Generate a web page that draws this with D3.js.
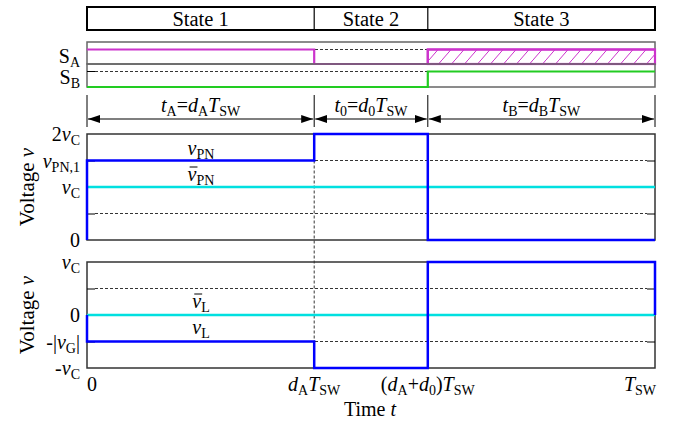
<!DOCTYPE html>
<html>
<head>
<meta charset="utf-8">
<script src="https://cdn.jsdelivr.net/npm/d3@7"></script>
<style>
  body { margin: 0; background: #fff; }
  svg { display: block; font-family: "Liberation Serif", "DejaVu Serif", serif; }
</style>
</head>
<body>
<svg id="chart" width="679" height="421"></svg>
<script>
// data (time in units of T_SW, voltage in units of v_C)
const stateNames = ["State 1", "State 2", "State 3"];
const duty = [0.4, 0.2, 0.4];            // dA, d0, dB
const sA = [1, 0, 1];                    // state 3 of SA is hatched (don't care)
const sAHatched = [false, false, true];
const sB = [0, 0, 1];
const vPN = [1.5, 2, 0];
const vPNMean = 1;
const vL = [-0.5, -1, 1];
const vLMean = 0;
const vPNTicks = [0, 1, 1.5, 2];
const vPNTickLabels = [[["0"]], [["v", "i"], ["C", "sub"]], [["v", "i"], ["PN,1", "sub"]], [["2"], ["v", "i"], ["C", "sub"]]];
const vPNGrid = [0.5, 1.5];
const vLTicks = [-1, -0.5, 0, 1];
const vLTickLabels = [[["-"], ["v", "i"], ["C", "sub"]], [["-|"], ["v", "i"], ["G", "sub"], ["|"]], [["0"]], [["v", "i"], ["C", "sub"]]];
const vLGrid = [-0.5, 0.5];
const intervalLabels = [
  [["t", "i"], ["A", "sub"], ["="], ["d", "i"], ["A", "sub"], ["T", "i"], ["SW", "sub"]],
  [["t", "i"], ["0", "sub"], ["="], ["d", "i"], ["0", "sub"], ["T", "i"], ["SW", "sub"]],
  [["t", "i"], ["B", "sub"], ["="], ["d", "i"], ["B", "sub"], ["T", "i"], ["SW", "sub"]]
];
const timeTickLabels = [
  [["0"]],
  [["d", "i"], ["A", "sub"], ["T", "i"], ["SW", "sub"]],
  [["("], ["d", "i"], ["A", "sub"], ["+"], ["d", "i"], ["0", "sub"], [")"], ["T", "i"], ["SW", "sub"]],
  [["T", "i"], ["SW", "sub"]]
];

const chart = (function () {

    let svg, x, yPN, yL, bounds;

    const colBlue = "#0000ff",
          colCyan = "#00e0e0",
          colPink = "#cc33cc",
          colGreen = "#22cc22",
          colFrame = "#333",
          fs = 20;

    return { init };

    // writes italic / subscript runs into a text element
    function rich(sel, parts, size) {
        let shifted = false;
        parts.forEach(function (p) {
            const t = sel.append("tspan").text(p[0]);
            const f = p.slice(1);
            if (f.includes("i")) t.style("font-style", "italic");
            if (f.includes("sub")) {
                t.style("font-size", (size * 0.7) + "px");
                if (!shifted) { t.attr("dy", 4); shifted = true; }
            } else if (shifted) {
                t.attr("dy", -4); shifted = false;
            }
        });
        return sel;
    }

    // bar over the first glyph of a text element
    function overbar(g, textSel) {
        const r = textSel.node().getExtentOfChar(0);
        g.append("line")
            .attr("x1", r.x + 2).attr("x2", r.x + r.width + 1)
            .attr("y1", r.y + 4).attr("y2", r.y + 4)
            .attr("stroke", "#000").attr("stroke-width", 1);
    }

    function init() {
        svg = d3.select("#chart");

        bounds = [0];
        duty.forEach(function (d, i) { bounds.push(bounds[i] + d); });

        x = d3.scaleLinear().domain([0, 1]).range([87, 655]);
        yPN = d3.scaleLinear().domain([0, 2]).range([240, 134]);
        yL = d3.scaleLinear().domain([-1, 1]).range([368, 262]);

        drawStates();
        drawSwitches();
        drawIntervals();
        drawPlot(yPN, vPN, vPNMean, vPNGrid, vPNTicks, vPNTickLabels, true);
        drawPlot(yL, vL, vLMean, vLGrid, vLTicks, vLTickLabels, false);
        drawTimeAxis();
    }

    function drawStates() {
        const g = svg.append("g");
        g.append("rect")
            .attr("x", x(0)).attr("y", 7)
            .attr("width", x(1) - x(0)).attr("height", 23)
            .attr("fill", "none").attr("stroke", "#000").attr("stroke-width", 2);
        g.selectAll("line.div").data(bounds.slice(1, -1)).join("line")
            .attr("x1", d => x(d)).attr("x2", d => x(d))
            .attr("y1", 7).attr("y2", 30)
            .attr("stroke", "#000").attr("stroke-width", 1.2);
        g.selectAll("text").data(stateNames).join("text")
            .attr("x", (d, i) => x((bounds[i] + bounds[i + 1]) / 2))
            .attr("y", 25.5)
            .attr("text-anchor", "middle")
            .style("font-size", "20.5px")
            .text(d => d);
    }

    function drawSwitches() {
        const g = svg.append("g");
        const defs = svg.append("defs");
        const pat = defs.append("pattern")
            .attr("id", "hatch").attr("patternUnits", "userSpaceOnUse")
            .attr("width", 13).attr("height", 15);
        pat.append("line")
            .attr("x1", 0).attr("y1", 15).attr("x2", 13).attr("y2", 0)
            .attr("stroke", colPink).attr("stroke-width", 1);

        const lanes = [
            { name: "A", top: 42, bot: 64, vals: sA, col: colPink },
            { name: "B", top: 64, bot: 87, vals: sB, col: colGreen }
        ];

        lanes.forEach(function (ln) {
            const yS = d3.scaleLinear().domain([0, 1]).range([ln.bot, ln.top + 7.5]);

            g.append("rect")
                .attr("x", x(0)).attr("y", ln.top)
                .attr("width", x(1) - x(0)).attr("height", ln.bot - ln.top)
                .attr("fill", "none").attr("stroke", "#666").attr("stroke-width", 1.5);
            g.append("line")
                .attr("x1", x(0) + 8).attr("x2", x(1))
                .attr("y1", yS(1)).attr("y2", yS(1))
                .attr("stroke", "#000").attr("stroke-width", 0.8)
                .attr("stroke-dasharray", "3,2");
            g.append("line")
                .attr("x1", x(0)).attr("x2", x(0) + 8)
                .attr("y1", yS(1)).attr("y2", yS(1))
                .attr("stroke", "#000").attr("stroke-width", 1);

            const pts = [];
            ln.vals.forEach(function (v, i) { pts.push([bounds[i], v]); });
            pts.push([1, ln.vals[ln.vals.length - 1]]);
            g.append("path")
                .datum(pts)
                .attr("d", d3.line().x(d => x(d[0])).y(d => yS(d[1])).curve(d3.curveStepAfter))
                .attr("fill", "none").attr("stroke", ln.col).attr("stroke-width", 2.2);

            if (ln.name === "A") {
                sAHatched.forEach(function (h, i) {
                    if (!h) return;
                    g.append("rect")
                        .attr("x", x(bounds[i])).attr("y", yS(1))
                        .attr("width", x(bounds[i + 1]) - x(bounds[i]))
                        .attr("height", yS(0) - yS(1))
                        .attr("fill", "url(#hatch)")
                        .attr("stroke", colPink).attr("stroke-width", 2.2);
                });
            }

            const lab = g.append("text")
                .attr("x", 80).attr("y", ln.name === "A" ? 63 : 84)
                .attr("text-anchor", "end")
                .style("font-size", fs + "px");
            rich(lab, [["S"], [ln.name, "sub"]], fs);
        });
    }

    function drawIntervals() {
        const g = svg.append("g");
        const defs = svg.select("defs");
        ["arrEnd", "arrStart"].forEach(function (id) {
            defs.append("marker")
                .attr("id", id).attr("viewBox", "0 0 12 8")
                .attr("refX", id === "arrEnd" ? 12 : 0).attr("refY", 4)
                .attr("markerWidth", 12).attr("markerHeight", 8)
                .attr("markerUnits", "userSpaceOnUse")
                .attr("orient", "auto")
                .append("path")
                .attr("d", id === "arrEnd" ? "M0,0L12,4L0,8Z" : "M12,0L0,4L12,8Z")
                .attr("fill", "#000");
        });

        g.selectAll("line.mark").data(bounds).join("line")
            .attr("x1", d => x(d)).attr("x2", d => x(d))
            .attr("y1", 95).attr("y2", 127)
            .attr("stroke", "#000").attr("stroke-width", 1);

        duty.forEach(function (d, i) {
            g.append("line")
                .attr("x1", x(bounds[i]) + 1).attr("x2", x(bounds[i + 1]) - 1)
                .attr("y1", 119).attr("y2", 119)
                .attr("stroke", "#000").attr("stroke-width", 1.2)
                .attr("marker-start", "url(#arrStart)")
                .attr("marker-end", "url(#arrEnd)");
            const t = g.append("text")
                .attr("x", x((bounds[i] + bounds[i + 1]) / 2))
                .attr("y", 112)
                .attr("text-anchor", "middle")
                .style("font-size", fs + "px");
            rich(t, intervalLabels[i], fs);
        });

        // dashed guide at the dA boundary through both voltage plots
        g.append("line")
            .attr("x1", x(bounds[1])).attr("x2", x(bounds[1]))
            .attr("y1", yPN(vPN[0])).attr("y2", yL(vL[0]))
            .attr("stroke", "#000").attr("stroke-width", 0.8)
            .attr("stroke-dasharray", "3,2");
    }

    function drawPlot(y, vals, mean, grid, ticks, tickLabels, top) {
        const g = svg.append("g");
        const d0 = y.domain();

        g.append("rect")
            .attr("x", x(0)).attr("y", y(d0[1]))
            .attr("width", x(1) - x(0)).attr("height", y(d0[0]) - y(d0[1]))
            .attr("fill", "none").attr("stroke", colFrame).attr("stroke-width", 1.5);

        g.selectAll("line.grid").data(grid).join("line")
            .attr("x1", x(0) + 8).attr("x2", x(1) - 8)
            .attr("y1", d => y(d)).attr("y2", d => y(d))
            .attr("stroke", "#000").attr("stroke-width", 0.8)
            .attr("stroke-dasharray", "3,2");

        g.append("g").attr("transform", "translate(" + x(0) + ",0)")
            .call(d3.axisLeft(y).tickValues(grid).tickSize(-8).tickFormat(""))
            .call(a => a.select(".domain").remove());
        g.append("g").attr("transform", "translate(" + x(1) + ",0)")
            .call(d3.axisRight(y).tickValues(grid).tickSize(-8).tickFormat(""))
            .call(a => a.select(".domain").remove());

        // average
        g.append("line")
            .attr("x1", x(0)).attr("x2", x(1))
            .attr("y1", y(mean)).attr("y2", y(mean))
            .attr("stroke", colCyan).attr("stroke-width", 2.5);

        const pts = [[0, 0]];
        vals.forEach(function (v, i) { pts.push([bounds[i], v]); });
        pts.push([1, vals[vals.length - 1]]);
        if (!top) pts.push([1, 0]);
        g.append("path")
            .datum(pts)
            .attr("d", d3.line().x(d => x(d[0])).y(d => y(d[1])).curve(d3.curveStepAfter))
            .attr("fill", "none").attr("stroke", colBlue).attr("stroke-width", 2.5);

        ticks.forEach(function (t, i) {
            const lab = g.append("text")
                .attr("x", 80).attr("y", y(t) + 7)
                .attr("text-anchor", "end")
                .style("font-size", fs + "px");
            rich(lab, tickLabels[i], fs);
        });

        const cx = 201;
        const inst = g.append("text")
            .attr("x", cx).attr("y", top ? 155 : 334)
            .attr("text-anchor", "middle").style("font-size", fs + "px");
        rich(inst, [["v", "i"], [top ? "PN" : "L", "sub"]], fs);
        const avg = g.append("text")
            .attr("x", cx).attr("y", top ? 181 : 308)
            .attr("text-anchor", "middle").style("font-size", fs + "px");
        rich(avg, [["v", "i"], [top ? "PN" : "L", "sub"]], fs);
        overbar(g, avg);

        g.append("text")
            .attr("transform", "translate(34," + y((d0[0] + d0[1]) / 2) + ") rotate(-90)")
            .attr("text-anchor", "middle")
            .style("font-size", "21px")
            .call(s => rich(s, [["Voltage "], ["v", "i"]], 21));
    }

    function drawTimeAxis() {
        const g = svg.append("g");
        bounds.forEach(function (b, i) {
            const last = i === bounds.length - 1;
            const t = g.append("text")
                .attr("x", i === 0 ? x(b) : (last ? x(b) + 1 : x(b)))
                .attr("y", 391)
                .attr("text-anchor", i === 0 ? "start" : (last ? "end" : "middle"))
                .style("font-size", fs + "px");
            rich(t, timeTickLabels[i], fs);
        });
        g.append("text")
            .attr("x", 370).attr("y", 416)
            .attr("text-anchor", "middle")
            .style("font-size", "20px")
            .call(s => rich(s, [["Time "], ["t", "i"]], 20));
    }

}());

chart.init();
</script>
</body>
</html>
